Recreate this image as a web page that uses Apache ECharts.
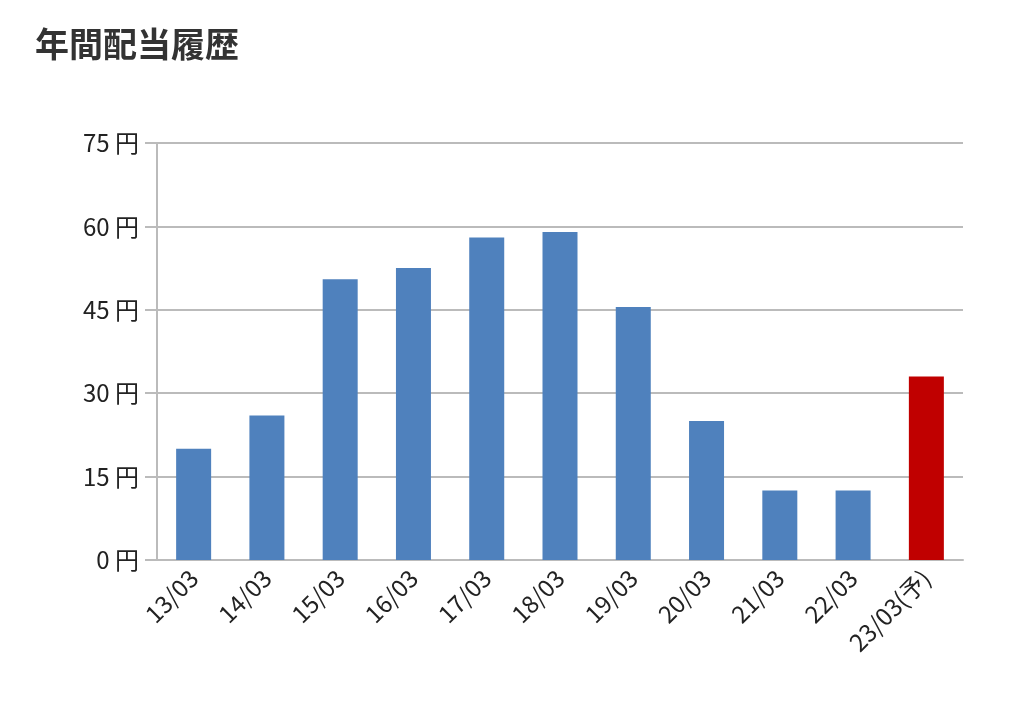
<!DOCTYPE html>
<html><head><meta charset="utf-8">
<script src="https://cdn.jsdelivr.net/npm/echarts@6/dist/echarts.min.js"></script>
<style>html,body{margin:0;background:#fff}#c{width:1024px;height:717px}</style>
</head><body><div id="c"></div>
<script>
var categories = ['13/03','14/03','15/03','16/03','17/03','18/03','19/03','20/03','21/03','22/03','23/03(予)'];
var values = [20, 26, 50.5, 52.5, 58, 59, 45.5, 25, 12.5, 12.5, 33];
var forecastIndex = 10;

var chart = echarts.init(document.getElementById('c'));
chart.setOption({
    animation: false,
    title: {
        text: '年間配当履歴', left: 30, top: 22,
        textStyle: {fontFamily: 'Noto Sans CJK JP', fontSize: 34, fontWeight: 'bold', color: '#333'}
    },
    grid: {left: 157, right: 61, top: 143, bottom: 157},
    xAxis: {
        type: 'category', data: categories,
        axisLine: {lineStyle: {color: '#bbb', width: 2}},
        axisTick: {inside: true, length: 18, lineStyle: {color: '#bbb', width: 2}},
        axisLabel: {rotate: 45, fontSize: 24, color: '#222', fontFamily: 'Noto Sans CJK JP', margin: 14}
    },
    yAxis: {
        type: 'value', min: 0, max: 75, interval: 15,
        axisLine: {show: true, lineStyle: {color: '#bbb', width: 2}},
        axisTick: {show: true, length: 12, lineStyle: {color: '#bbb', width: 2}},
        splitLine: {lineStyle: {color: '#bbb', width: 2}},
        axisLabel: {formatter: '{value} 円', fontSize: 24, color: '#222', fontFamily: 'Noto Sans CJK JP', margin: 18}
    },
    series: [{
        type: 'bar', barWidth: 35,
        data: values.map(function (v, i) {
            return {value: v, itemStyle: {color: i === forecastIndex ? '#c00000' : '#4f81bd'}};
        })
    }]
});
</script></body></html>
